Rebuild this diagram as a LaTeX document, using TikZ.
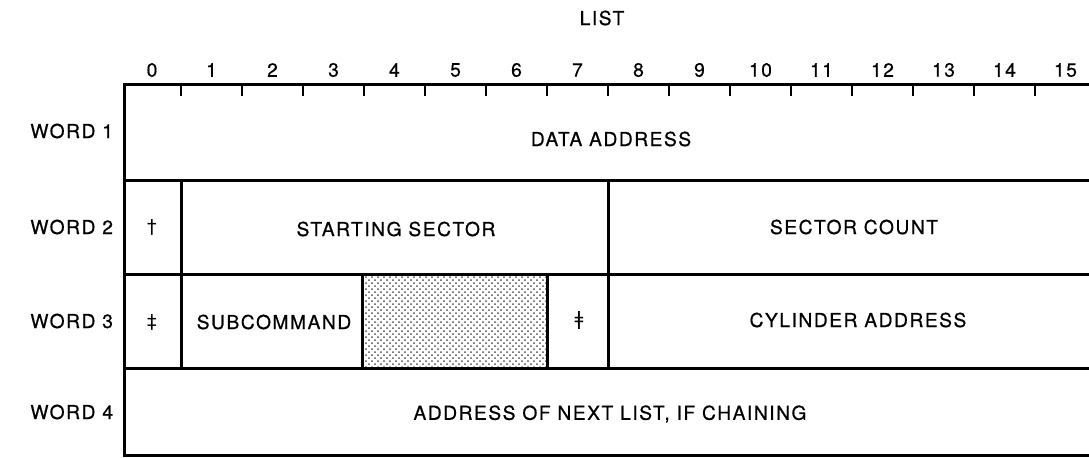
\documentclass[tikz,border=0pt]{standalone}
\usepackage{fontspec}
\setmainfont{TeX Gyre Heros}[LetterSpace=8, FakeBold=0.6]
\newfontfamily\marksfont{DejaVu Sans}
\usetikzlibrary{patterns}

\begin{document}
\begin{tikzpicture}[x=0.5pt,y=-0.5pt,
    rule/.style={line width=1.5pt},
    tick/.style={line width=1.1pt},
    txt/.style={font=\fontsize{9.6}{11}\selectfont, inner sep=0pt},
    shade/.style={pattern=crosshatch dots, pattern color=black!70}]
    \useasboundingbox (0,0) rectangle (1089,457);

    % Title and bit numbers
    \node[txt] (title) at (602,18) {LIST};
    \node[txt] (bit0) at (152,70) {0};
    \foreach \b in {1,...,15}
        \node[txt] (bit\b) at ({150.5+61*\b},70) {\b};

    % Shaded (unused) field in word 3
    \fill[shade] (362,274) rectangle (547,368);

    % Frame and bit ticks
    \draw[rule] (124,457) -- (124,84) -- (1089,84);
    \foreach \b in {1,...,15}
        \draw[tick] ({120+61*\b},84) -- ++(0,12);

    % Word boundaries
    \foreach \y in {180,274,368,455}
        \draw[rule] (124,\y) -- (1089,\y);

    % Field dividers
    \draw[rule] (181,180) -- (181,368); % bit 0 | 1
    \draw[rule] (608,180) -- (608,368); % bit 7 | 8
    \draw[rule] (362,274) -- (362,368); % bit 3 | 4
    \draw[rule] (547,274) -- (547,368); % bit 6 | 7

    % Word labels
    \node[txt, anchor=west] (word1) at (30,131) {WORD 1};
    \node[txt, anchor=west] (word2) at (30,227) {WORD 2};
    \node[txt, anchor=west] (word3) at (30,321) {WORD 3};
    \node[txt, anchor=west] (word4) at (30,412) {WORD 4};

    % Field texts
    \node[txt] (dataaddr) at (611,139) {DATA ADDRESS};
    \node[txt] (dagger) at (152,227) {\marksfont †};
    \node[txt] (startsec) at (396,229) {STARTING SECTOR};
    \node[txt] (seccount) at (854,227) {SECTOR COUNT};
    \node[txt] (ddagger) at (152,322) {\marksfont ‡};
    \node[txt] (subcmd) at (274,322) {SUBCOMMAND};
    \node[txt] (dbar) at (579,320) {\marksfont ǂ};
    \node[txt] (cyladdr) at (858,320) {CYLINDER ADDRESS};
    \node[txt] (nextlist) at (610,414) {ADDRESS OF NEXT LIST, IF CHAINING};
\end{tikzpicture}
\end{document}
